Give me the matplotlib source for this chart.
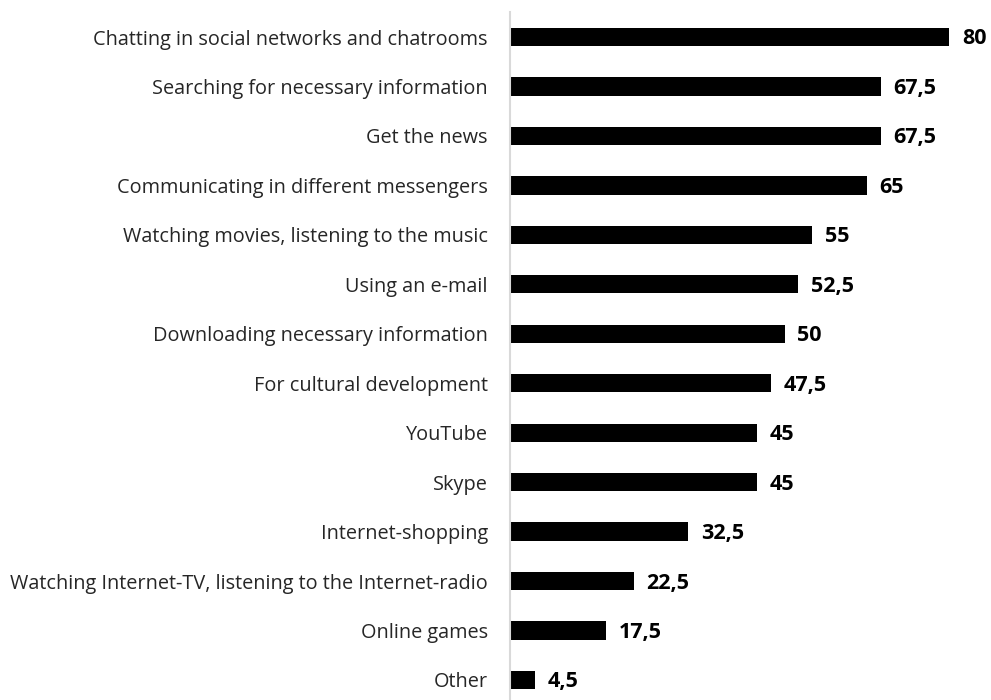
import matplotlib
matplotlib.use('Agg')
import matplotlib.pyplot as plt

# internet activities, share of respondents (%)
activities = [
    'Chatting in social networks and chatrooms',
    'Searching for necessary information',
    'Get the news',
    'Communicating in different messengers',
    'Watching movies, listening to the music',
    'Using an e-mail',
    'Downloading necessary information',
    'For cultural development',
    'YouTube',
    'Skype',
    'Internet-shopping',
    'Watching Internet-TV, listening to the Internet-radio',
    'Online games',
    'Other',
]
shares = [80, 67.5, 67.5, 65, 55, 52.5, 50, 47.5, 45, 45, 32.5, 22.5, 17.5, 4.5]

plt.rcParams['font.family'] = ['Open Sans', 'DejaVu Sans']

fig = plt.figure(figsize=(9.91, 7.0), dpi=100)
ax = fig.add_axes([510 / 991, 0, 481 / 991, 688 / 700])

pos = list(range(len(activities)))
ax.barh(pos, shares, height=0.37, color='black')

# value labels with decimal comma
for p, v in zip(pos, shares):
    txt = ('%g' % v).replace('.', ',')
    ax.text(v + 2.3, p + 0.04, txt, va='center', ha='left', fontsize=15.5,
            fontweight='bold', color='black')

ax.set_xlim(0, 481 / 5.49)
ax.set_ylim(13 + 20 / 49.46, -25 / 49.46)
ax.set_yticks(pos)
ax.set_yticklabels(activities, fontsize=14.3, color='#262626')
ax.tick_params(axis='y', length=0, pad=16)
ax.set_xticks([])

for s in ['top', 'right', 'bottom']:
    ax.spines[s].set_visible(False)
ax.spines['left'].set_color('#d9d9d9')
ax.spines['left'].set_linewidth(1.5)

fig.savefig('out.png', dpi=100)
